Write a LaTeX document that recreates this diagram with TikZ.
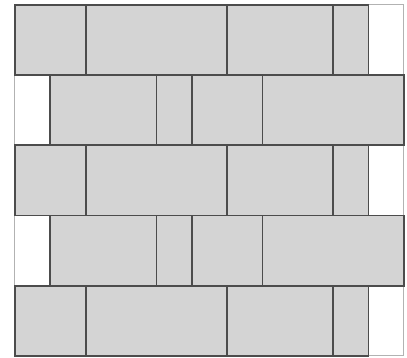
\documentclass[tikz,border=0pt]{standalone}
\usepackage{tikz}

\definecolor{brickgray}{gray}{0.83}
\definecolor{jointgray}{gray}{0.3}
\tikzset{brick/.style={fill=brickgray, draw=jointgray, line width=1.8pt}}

\begin{document}
\begin{tikzpicture}[x=35.36pt, y=-35.1pt]
        \useasboundingbox (-0.424,-0.142) rectangle (11.087,10.057);

        % Cadre
        \draw[gray!60, line width=1pt] (0,0) rectangle (11,10);

        % Rangees 1, 3, 5 (2 + 4 + 3 + 1, vide a droite)
        \foreach \y in {0,4,8} {
            \draw[brick] (0,\y) rectangle (2,\y+2);
            \draw[brick] (2,\y) rectangle (6,\y+2);
            \draw[brick] (6,\y) rectangle (9,\y+2);
            \draw[brick] (9,\y) rectangle (10,\y+2);
        }

        % Rangees 2, 4 (vide a gauche, 3 + 1 + 2 + 4)
        \foreach \y in {2,6} {
            \draw[brick] (1,\y) rectangle (4,\y+2);
            \draw[brick] (4,\y) rectangle (5,\y+2);
            \draw[brick] (5,\y) rectangle (7,\y+2);
            \draw[brick] (7,\y) rectangle (11,\y+2);
        }
\end{tikzpicture}
\end{document}
